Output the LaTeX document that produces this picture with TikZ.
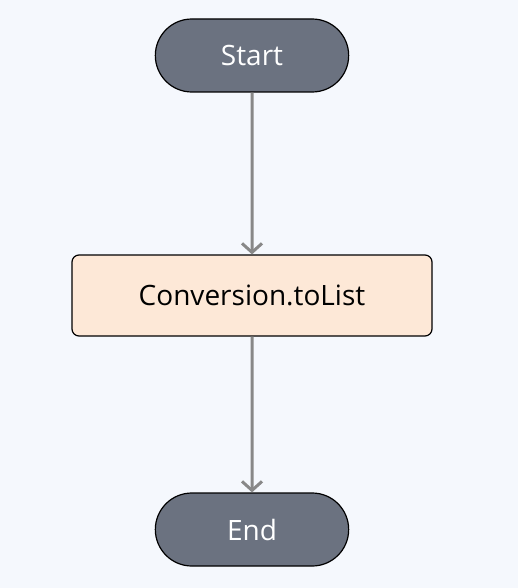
\documentclass[tikz,border=0pt]{standalone}
\usepackage{fontspec}
\setmainfont{Open Sans}
\usepackage{tikz}
\usetikzlibrary{positioning,shapes.misc,arrows.meta}

\definecolor{bgcol}{HTML}{F5F8FD}
\definecolor{termcol}{HTML}{6B7280}
\definecolor{stepcol}{HTML}{FDE8D7}
\definecolor{flowcol}{HTML}{888888}

\begin{document}
\begin{tikzpicture}[x=1pt, y=-1pt, text centered,
              every node/.style = {draw=black, line width=1.2pt,
                font=\fontsize{28}{33}\selectfont},
              terminal/.style = {shape=rounded rectangle, fill=termcol,
                text=white, minimum width=200pt, minimum height=73pt},
              stepbox/.style = {shape=rectangle, rounded corners=7pt,
                fill=stepcol, minimum width=360pt, minimum height=81pt},
              flow/.style = {draw=flowcol, line width=3pt,
                -{Straight Barb[length=9pt, width=20pt, line width=3pt]}}]
              \fill[bgcol] (0,0) rectangle (518,588);
              \useasboundingbox (0,0) rectangle (518,588);
              \node[terminal] (start) at (252,55.5) {Start};
              \node[stepbox] (tolist) at (252,295.5) {Conversion.toList};
              \node[terminal] (end) at (252,529.5) {End};
              \draw[flow] (start) -- (tolist);
              \draw[flow] (tolist) -- (end);
            \end{tikzpicture}
\end{document}
